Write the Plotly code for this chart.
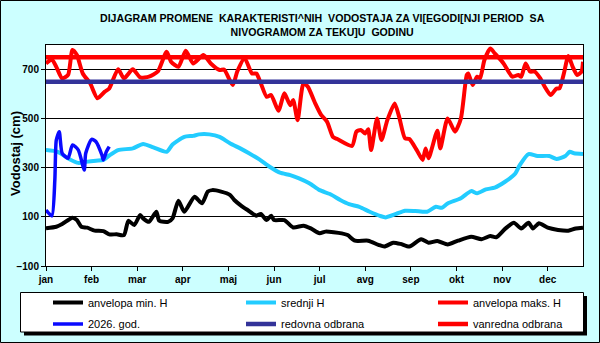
import plotly.graph_objects as go

# ---------------- data ----------------
months = ["jan", "feb", "mar", "apr", "maj", "jun", "jul", "avg", "sep", "okt", "nov", "dec"]
month_days = [0, 31, 62, 93, 124, 155, 186, 217, 248, 279, 310, 341]

min_days = [0, 7, 11, 18, 21, 24, 28, 33, 39, 43, 48, 53, 56, 60, 64, 66, 70, 75, 77, 83,
            86, 90, 94, 101, 106, 110, 113, 119, 125, 128, 133, 137, 143, 146, 150, 153, 155, 162, 168, 175,
            180, 186, 190, 201, 205, 210, 219, 226, 230, 236, 241, 247, 255, 260, 266, 273, 280, 289, 296, 302,
            306, 312, 318, 323, 328, 331, 335, 341, 348, 355, 360, 365]
min_vals = [54, 60, 71, 97, 87, 60, 56, 44, 42, 29, 29, 26, 84, 67, 108, 94, 80, 121, 84, 80,
            94, 166, 121, 182, 155, 203, 209, 203, 190, 169, 144, 128, 105, 112, 87, 105, 87, 87, 57, 64,
            53, 33, 40, 33, 26, 3, 3, -14, -21, -5, -10, -21, 9, -5, 2, -12, 3, 19, 9, 22,
            17, 51, 76, 53, 76, 53, 74, 56, 47, 44, 53, 56]

mean_days = [0, 8, 16, 22, 27, 34, 39, 43, 49, 59, 66, 73, 82, 86, 94, 100, 104, 111, 118, 125,
             132, 138, 145, 152, 159, 166, 172, 179, 186, 193, 200, 206, 213, 220, 227, 231, 238, 244, 251, 259,
             265, 269, 273, 282, 289, 293, 299, 305, 312, 319, 322, 328, 334, 342, 347, 353, 356, 359, 365]
mean_vals = [372, 365, 335, 320, 324, 329, 332, 350, 372, 379, 397, 383, 365, 395, 426, 430, 436, 436, 426, 400,
             379, 359, 334, 304, 280, 270, 257, 237, 209, 193, 169, 152, 141, 121, 104, 98, 112, 125, 124, 121,
             141, 137, 155, 176, 205, 196, 212, 219, 243, 277, 311, 356, 348, 348, 336, 348, 365, 359, 356]

max_days = [0, 4, 7, 11, 15, 18, 21, 25, 30, 35, 40, 43, 49, 53, 59, 64, 70, 76, 82, 85,
            90, 95, 100, 107, 112, 118, 121, 127, 130, 135, 140, 143, 146, 150, 153, 158, 162, 166, 168, 171,
            175, 178, 183, 187, 191, 195, 198, 208, 211, 214, 217, 219, 221, 225, 228, 232, 237, 240, 244, 247,
            252, 256, 258, 260, 266, 268, 273, 278, 282, 286, 287, 290, 293, 295, 298, 302, 305, 311, 317, 321,
            323, 326, 329, 332, 336, 339, 343, 347, 349, 352, 355, 358, 361, 364, 365]
max_vals = [725, 741, 711, 664, 678, 780, 759, 684, 644, 583, 610, 623, 701, 664, 701, 668, 671, 692, 773, 732,
            711, 777, 725, 759, 725, 698, 700, 637, 692, 746, 684, 684, 644, 589, 596, 532, 603, 555, 576, 494,
            644, 630, 562, 515, 488, 426, 417, 389, 447, 454, 440, 457, 372, 501, 413, 494, 562, 508, 420, 417,
            372, 332, 379, 339, 451, 379, 501, 447, 501, 678, 684, 637, 671, 664, 739, 786, 766, 725, 671, 678,
            671, 725, 692, 692, 664, 630, 596, 623, 623, 684, 755, 711, 678, 692, 732]

cur_days = [0, 4, 6, 7, 9, 11, 15, 18, 22, 26, 27, 31, 34, 38, 39, 41, 43]
cur_vals = [128, 104, 250, 413, 447, 359, 339, 393, 372, 291, 359, 416, 406, 352, 332, 365, 386]

redovna_level = 650
vanredna_level = 750
year_span = [0, 365]

title_lines = ["DIJAGRAM PROMENE\u00a0 KARAKTERISTI^NIH\u00a0 VODOSTAJA ZA VI[EGODI[NJI PERIOD\u00a0 SA",
               "NIVOGRAMOM ZA TEKU]U\u00a0 GODINU"]
y_title = "Vodostaj (cm)"

# ---------------- geometry helpers ----------------
L, R, T, B = 46, 17, 45, 77
W, H = 600, 343
PW, PH = W - L - R, H - T - B


def px(xp):
    return (xp - L) / PW


def py(yp):
    return (H - B - yp) / PH


FONT = "Liberation Sans, Arial, sans-serif"

fig = go.Figure()

line_shape = dict(shape="spline", smoothing=0.6)

series = [
    (min_days, min_vals, "anvelopa min. H", dict(color="#000000", width=4, **line_shape)),
    (mean_days, mean_vals, "srednji H", dict(color="#22ccff", width=4, **line_shape)),
    (max_days, max_vals, "anvelopa maks. H", dict(color="#ff0000", width=4, **line_shape)),
    (cur_days, cur_vals, "2026. god.", dict(color="#0a0aff", width=3.5, **line_shape)),
    (year_span, [redovna_level] * 2, "redovna odbrana", dict(color="#333399", width=4.5)),
    (year_span, [vanredna_level] * 2, "vanredna odbrana", dict(color="#ff0000", width=4.5)),
]

legend_pos = [(48, 302.5), (241, 302.5), (433, 302.5), (48, 324), (241, 324), (433, 324)]
legend_layouts = {}
for i, (xs, ys, name, ln) in enumerate(series):
    key = "legend" if i == 0 else "legend%d" % (i + 1)
    fig.add_trace(go.Scatter(x=xs, y=ys, mode="lines", name=name, line=ln, legend=key))
    lx, ly = legend_pos[i]
    legend_layouts[key] = dict(x=px(lx), y=py(ly), xanchor="left", yanchor="middle",
                               orientation="h", bgcolor="rgba(0,0,0,0)", borderwidth=0,
                               font=dict(family=FONT, size=11, color="black"), itemwidth=30)

shapes = [
    # outer frame
    dict(type="rect", xref="paper", yref="paper", x0=px(0.5), x1=px(599.5), y0=py(342.5), y1=py(0.5),
         line=dict(color="black", width=1), fillcolor="rgba(0,0,0,0)", layer="below"),
    # legend shadow
    dict(type="rect", xref="paper", yref="paper", x0=px(24), x1=px(587), y0=py(335.5), y1=py(296),
         line=dict(width=0), fillcolor="black", layer="above"),
    # legend box
    dict(type="rect", xref="paper", yref="paper", x0=px(20.5), x1=px(583.5), y0=py(332), y1=py(292.5),
         line=dict(color="black", width=1), fillcolor="white", layer="above"),
]

fig.update_layout(
    width=W, height=H,
    margin=dict(l=L, r=R, t=T, b=B, pad=0, autoexpand=False),
    paper_bgcolor="#ccffff",
    plot_bgcolor="white",
    showlegend=True,
    shapes=shapes,
    annotations=[
        dict(text="<b>" + title_lines[0] + "</b><br><b>" + title_lines[1] + "</b>",
             xref="paper", yref="paper", x=px(322), y=py(25), xanchor="center", yanchor="middle",
             showarrow=False, font=dict(family=FONT, size=10.6, color="black")),
        dict(text="<b>" + y_title + "</b>", textangle=-90,
             xref="paper", yref="paper", x=px(15), y=py(154), xanchor="center", yanchor="middle",
             showarrow=False, font=dict(family=FONT, size=13, color="black")),
    ],
    xaxis=dict(range=year_span, tickmode="array", tickvals=month_days, ticktext=months,
               showgrid=False, zeroline=False, showline=True, linecolor="black", linewidth=1, mirror=True,
               ticks="outside", ticklen=4, tickcolor="black",
               tickfont=dict(family=FONT, size=10, color="black", weight="bold")),
    yaxis=dict(range=[-100, 800], tickmode="array", tickvals=[-100, 100, 300, 500, 700],
               showgrid=True, gridcolor="black", gridwidth=1, zeroline=False,
               showline=True, linecolor="black", linewidth=1, mirror=True,
               ticks="outside", ticklen=4, tickcolor="black",
               tickfont=dict(family=FONT, size=10, color="black", weight="bold")),
    **legend_layouts,
)

fig.write_html("out.html")
